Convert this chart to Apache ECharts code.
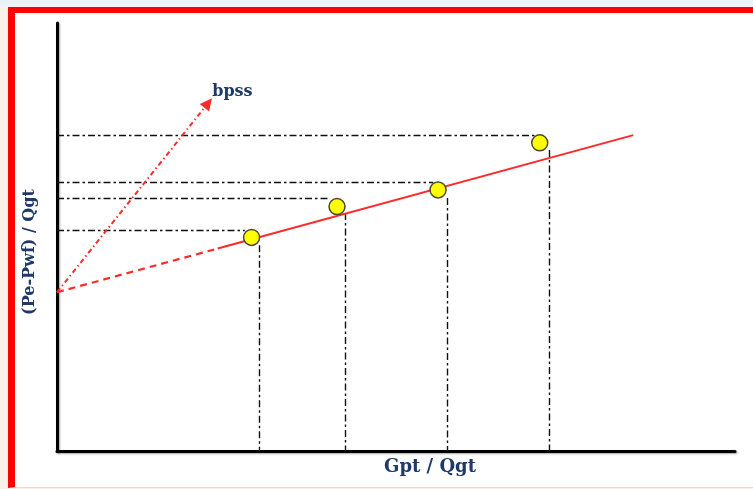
<!DOCTYPE html>
<html>
<head>
<meta charset="utf-8">
<title>bpss — (Pe-Pwf)/Qgt vs Gpt/Qgt</title>
<script src="https://cdn.jsdelivr.net/npm/echarts@6/dist/echarts.min.js"></script>
<style>
  html, body { margin: 0; padding: 0; }
  body {
    width: 753px; height: 489px; overflow: hidden; position: relative;
    background: linear-gradient(180deg, #e8f1f9 0px, #eef4f9 7px, #f8f1e8 7px);
  }
  #frame {
    position: absolute; left: 8px; top: 7px; width: 760px; height: 474px;
    background: #ffffff;
    border-left: 7px solid #ff0000;
    border-top: 6px solid #ff0000;
    border-bottom: 1px solid #ffcfcf;
  }
  #chart { position: absolute; left: 0; top: 0; width: 753px; height: 489px; }
</style>
</head>
<body>
<div id="frame"></div>
<div id="chart"></div>
<script>
// Measured test points (Gpt/Qgt, (Pe-Pwf)/Qgt)
const pointsX = [28.7, 41.3, 56.2, 71.2];
const pointsY = [49.9, 57.1, 61.0, 72.0];

// Reading lines: horizontal levels to the y axis, vertical drops to the x axis
const guideHY   = [51.5, 59.0, 62.8, 73.8];
const guideHEnd = [27.7, 40.0, 55.5, 71.7];
const guideVX   = [29.9, 42.5, 57.5, 72.6];
const guideVTop = [48.1, 55.6, 59.1, 70.3];

// Straight-line fit and its extrapolation back to the intercept
const fitDashed = [[0, 37.1], [23.7, 47.3]];
const fitSolid  = [[23.7, 47.3], [85.0, 73.8]];

// Slope arrow from the intercept, labelled bpss
const arrowLine  = [[0, 37.1], [22.3, 81.3]];
const arrowLabel = 'bpss';

const xName = 'Gpt / Qgt';
const yName = '(Pe-Pwf) / Qgt';

const textColor = '#1f3a68';
const serif = '"DejaVu Serif", "Liberation Serif", serif';

const guideSegments = [];
guideHY.forEach((y, i) => guideSegments.push({ coords: [[0, y], [guideHEnd[i], y]] }));
guideVX.forEach((x, i) => guideSegments.push({ coords: [[x, guideVTop[i]], [x, 0]] }));

const axisLine = {
  show: true,
  onZero: false,
  lineStyle: {
    color: '#000', width: 3,
    shadowColor: 'rgba(0,0,0,0.35)', shadowBlur: 2, shadowOffsetX: 1, shadowOffsetY: 1
  }
};

const chart = echarts.init(document.getElementById('chart'), null, { renderer: 'canvas' });
chart.setOption({
  animation: false,
  backgroundColor: 'transparent',
  grid: { left: 57, top: 23, right: 18, bottom: 38 },
  xAxis: {
    type: 'value', min: 0, max: 100,
    axisLine: axisLine, axisTick: { show: false }, axisLabel: { show: false }, splitLine: { show: false },
    name: xName, nameLocation: 'middle', nameGap: 7,
    nameTextStyle: { color: textColor, fontFamily: serif, fontWeight: 'bold', fontSize: 18, padding: [0, 0, 0, 68] }
  },
  yAxis: {
    type: 'value', min: 0, max: 100,
    axisLine: axisLine, axisTick: { show: false }, axisLabel: { show: false }, splitLine: { show: false },
    name: yName, nameLocation: 'middle', nameGap: 19, nameRotate: 90,
    nameTextStyle: { color: textColor, fontFamily: serif, fontWeight: 'bold', fontSize: 16, padding: [0, 30, 0, 0] }
  },
  series: [
    {
      type: 'lines', coordinateSystem: 'cartesian2d', z: 1,
      symbol: 'none', silent: true,
      lineStyle: { color: '#111', width: 1.4, type: [7, 3, 2.5, 3], opacity: 1, curveness: 0 },
      data: guideSegments
    },
    {
      type: 'line', z: 2, symbol: 'none', silent: true,
      lineStyle: { color: '#ff2a2a', width: 2.2, type: [7, 5] },
      data: fitDashed
    },
    {
      type: 'line', z: 2, symbol: 'none', silent: true,
      lineStyle: { color: '#ff2a2a', width: 2 },
      data: fitSolid
    },
    {
      type: 'lines', coordinateSystem: 'cartesian2d', z: 2, silent: true,
      symbol: ['none', 'triangle'], symbolSize: [0, 12],
      lineStyle: { color: '#ff2a2a', width: 2, type: [5, 3, 1.5, 3], opacity: 1, curveness: 0 },
      data: [{ coords: arrowLine }]
    },
    {
      type: 'scatter', z: 3, silent: true, symbolSize: 0,
      itemStyle: { opacity: 1 },
      label: {
        show: true, position: 'right', distance: 4, offset: [0, -11],
        formatter: arrowLabel, color: textColor, fontFamily: serif, fontWeight: 'bold', fontSize: 16,
        opacity: 1
      },
      data: [arrowLine[1]]
    },
    {
      type: 'scatter', z: 4, silent: true, symbol: 'circle', symbolSize: 16,
      itemStyle: { color: '#ffff00', borderColor: '#4a4a30', borderWidth: 1.5, opacity: 1 },
      data: pointsX.map((x, i) => [x, pointsY[i]])
    }
  ]
});
</script>
</body>
</html>
